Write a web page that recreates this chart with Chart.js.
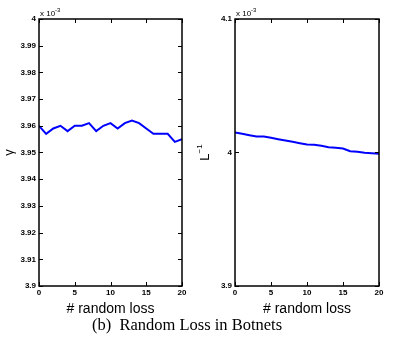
<!DOCTYPE html>
<html>
<head>
<meta charset="utf-8">
<script src="https://cdn.jsdelivr.net/npm/chart.js@4"></script>
<style>
  body { margin: 0; background: #fff; width: 408px; height: 349px; position: relative; overflow: hidden; }
  #left { position: absolute; left: 0; top: 0; }
  #right { position: absolute; left: 196px; top: 0; }
  #caption { position: absolute; left: 0; width: 374px; top: 315px; text-align: center; white-space: nowrap;
             font-family: "Liberation Serif", "DejaVu Serif", serif; font-size: 16.5px; color: #000; }
</style>
</head>
<body>
<canvas id="left" width="200" height="318"></canvas>
<canvas id="right" width="212" height="318"></canvas>
<div id="caption">(b)&nbsp; Random Loss in Botnets</div>
<script>
// values are in units of 10^-3
const randomLoss = [0, 1, 2, 3, 4, 5, 6, 7, 8, 9, 10, 11, 12, 13, 14, 15, 16, 17, 18, 19, 20];
const gammaValues = [3.960, 3.957, 3.959, 3.960, 3.958, 3.960, 3.960, 3.961, 3.958, 3.960, 3.961,
                     3.959, 3.961, 3.962, 3.961, 3.959, 3.957, 3.957, 3.957, 3.954, 3.955];
const invLValues = [4.015, 4.014, 4.013, 4.012, 4.012, 4.011, 4.010, 4.009, 4.008, 4.007, 4.006,
                    4.0058, 4.005, 4.004, 4.0035, 4.003, 4.001, 4.0005, 3.9998, 3.9995, 3.999];
const xTicks = [0, 5, 10, 15, 20];
const gammaTicks = [3.9, 3.91, 3.92, 3.93, 3.94, 3.95, 3.96, 3.97, 3.98, 3.99, 4];
const invLTicks = [3.9, 4, 4.1];

const tickFont = { family: "'Liberation Sans', Arial, sans-serif", size: 8, weight: 'bold' };

// matlab style box with inward ticks, exponent note and rotated y label
const matlabBox = {
  id: 'matlabBox',
  afterDraw(chart, args, opts) {
    const ctx = chart.ctx;
    const a = chart.chartArea;
    const xs = chart.scales.x, ys = chart.scales.y;
    ctx.save();
    ctx.strokeStyle = '#000';
    ctx.lineWidth = 1.5;
    ctx.strokeRect(a.left, a.top, a.right - a.left, a.bottom - a.top);
    ctx.lineWidth = 1;
    ctx.beginPath();
    xs.ticks.forEach(t => {
      const px = Math.round(xs.getPixelForValue(t.value)) + 0.5;
      ctx.moveTo(px, a.bottom); ctx.lineTo(px, a.bottom - 4);
      ctx.moveTo(px, a.top); ctx.lineTo(px, a.top + 4);
    });
    ys.ticks.forEach(t => {
      const py = Math.round(ys.getPixelForValue(t.value)) + 0.5;
      ctx.moveTo(a.left, py); ctx.lineTo(a.left + 4, py);
      ctx.moveTo(a.right, py); ctx.lineTo(a.right - 4, py);
    });
    ctx.stroke();

    // x 10^-3
    ctx.fillStyle = '#000';
    ctx.textBaseline = 'alphabetic';
    ctx.textAlign = 'left';
    ctx.font = "8px 'Liberation Sans', Arial, sans-serif";
    ctx.fillText('x 10', a.left + 1, a.top - 3);
    const w = ctx.measureText('x 10').width;
    ctx.font = "6px 'Liberation Sans', Arial, sans-serif";
    ctx.fillText('-3', a.left + 1 + w, a.top - 7);

    // rotated y label
    ctx.translate(9, (a.top + a.bottom) / 2);
    ctx.rotate(-Math.PI / 2);
    ctx.textAlign = 'center';
    ctx.textBaseline = 'middle';
    ctx.font = "13px 'Liberation Sans', Arial, sans-serif";
    if (opts.sup) {
      const mw = ctx.measureText(opts.label).width;
      ctx.font = "8px 'Liberation Sans', Arial, sans-serif";
      const sw = ctx.measureText(opts.sup).width;
      const x0 = -(mw + sw) / 2;
      ctx.font = "13px 'Liberation Sans', Arial, sans-serif";
      ctx.textAlign = 'left';
      ctx.fillText(opts.label, x0, 0);
      ctx.font = "8px 'Liberation Sans', Arial, sans-serif";
      ctx.fillText(opts.sup, x0 + mw, -5);
    } else {
      ctx.fillText(opts.label, 0, 0);
    }
    ctx.restore();
  }
};

function makeChart(id, values, yTicks, yMin, yMax, rightPad, label, sup) {
  new Chart(document.getElementById(id), {
    type: 'line',
    data: {
      datasets: [{
        data: randomLoss.map((x, i) => ({ x: x, y: values[i] })),
        borderColor: '#0000ff',
        borderWidth: 2,
        pointRadius: 0,
        tension: 0,
        fill: false
      }]
    },
    options: {
      responsive: false,
      animation: false,
      events: [],
      layout: { padding: { top: 19, right: rightPad, left: 0, bottom: 0 } },
      plugins: {
        legend: { display: false },
        tooltip: { enabled: false },
        matlabBox: { label: label, sup: sup }
      },
      scales: {
        x: {
          type: 'linear',
          min: 0, max: 20,
          afterBuildTicks: s => { s.ticks = xTicks.map(v => ({ value: v })); },
          afterFit: s => { s.height = 32; },
          grid: { display: false, drawTicks: false, tickLength: 0 },
          border: { display: false },
          ticks: { font: tickFont, color: '#000', padding: 2, maxRotation: 0 },
          title: {
            display: true, text: '# random loss', color: '#000',
            font: { family: "'Liberation Sans', Arial, sans-serif", size: 14 },
            padding: { top: 1, bottom: 0 }
          }
        },
        y: {
          type: 'linear',
          min: yMin, max: yMax,
          afterBuildTicks: s => { s.ticks = yTicks.map(v => ({ value: v })); },
          afterFit: s => { s.width = 39; },
          grid: { display: false, drawTicks: false, tickLength: 0 },
          border: { display: false },
          ticks: {
            font: tickFont, color: '#000', padding: 3,
            callback: v => String(+v.toFixed(2))
          }
        }
      }
    },
    plugins: [matlabBox]
  });
}

makeChart('left', gammaValues, gammaTicks, 3.9, 4, 18, 'γ', null);
makeChart('right', invLValues, invLTicks, 3.9, 4.1, 29, 'L', '−1');
</script>
</body>
</html>
